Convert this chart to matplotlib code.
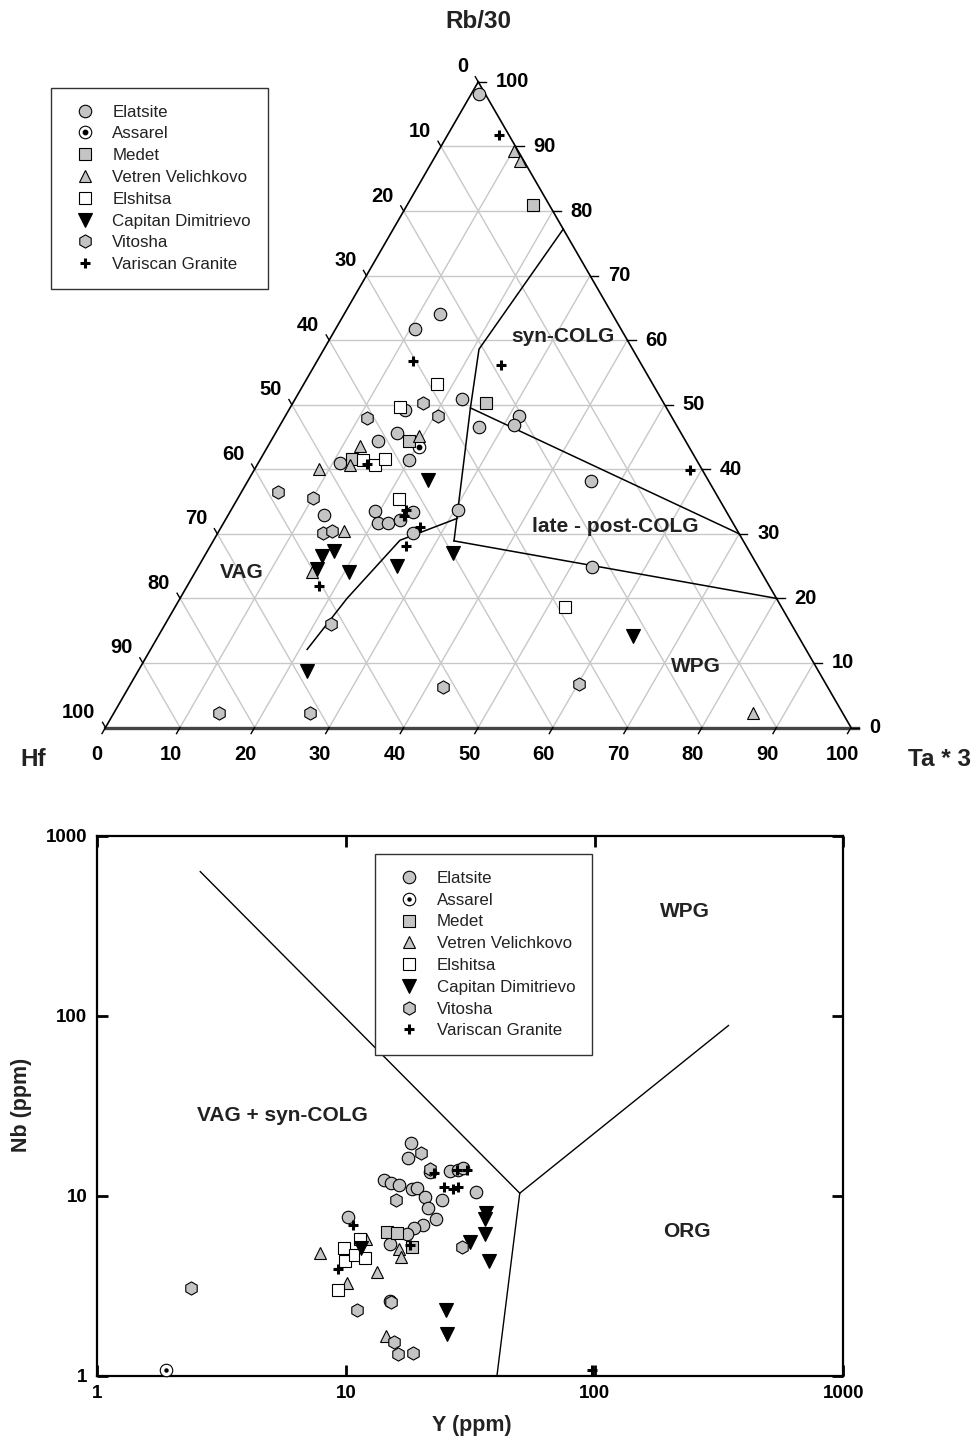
# coding=utf-8
"""
Desc: Hf - Rb/30 - Ta*3 ternary diagram and Nb - Y diagram for granitoids
"""
import numpy as np
import matplotlib
from matplotlib import pyplot as plt

matplotlib.use('Agg')
plt.rcParams['font.family'] = ['Liberation Sans', 'DejaVu Sans']

group_names = ['Elatsite', 'Assarel', 'Medet', 'Vetren Velichkovo', 'Elshitsa',
               'Capitan Dimitrievo', 'Vitosha', 'Variscan Granite']

# =============================================================================
# ternary data : Ta*3 (%) and Rb/30 (%), Hf = 100 - Ta - Rb
# =============================================================================
elatsite_ta = [1.0, 12.8, 10.6, 22.4, 15.6, 26.8, 31.3, 31.4, 14.4, 16.3, 20.0, 46.0,
               11.0, 12.8, 19.4, 20.8, 22.0, 23.4, 24.6, 26.2, 30.4, 52.8]
elatsite_rb = [98.1, 64.1, 61.7, 50.9, 49.2, 46.6, 48.3, 46.9, 44.4, 45.6, 41.4, 38.2,
               41.0, 32.9, 33.5, 31.6, 31.7, 32.1, 33.4, 30.1, 33.7, 24.8]
assarel_ta = [20.3]
assarel_rb = [43.5]
medet_ta = [16.9, 26.0, 18.5, 12.2]
medet_rb = [80.9, 50.2, 44.4, 41.6]
vetren_ta = [10.2, 11.7, 19.4, 12.4, 12.5, 8.6, 16.7, 15.6, 85.8]
vetren_rb = [89.3, 87.7, 45.2, 43.6, 40.7, 40.0, 30.5, 24.1, 2.2]
elshitsa_ta = [17.9, 14.7, 13.9, 15.8, 16.7, 21.7, 52.4]
elshitsa_rb = [53.2, 49.6, 41.4, 40.6, 41.6, 35.4, 18.6]
capitan_ta = [24.1, 15.8, 16.9, 16.1, 20.6, 26.6, 33.1, 22.6, 63.7]
capitan_rb = [38.3, 26.6, 27.4, 24.5, 24.1, 25.0, 27.0, 8.8, 14.2]
vitosha_ta = [11.1, 17.4, 20.5, 4.9, 10.1, 14.1, 15.2, 22.3, 14.1, 26.3, 42.1, 60.2]
vitosha_rb = [47.9, 50.3, 48.2, 36.4, 35.5, 30.1, 30.4, 16.0, 2.3, 2.2, 6.3, 6.7]
variscan_ta = [7.0, 12.9, 24.9, 14.7, 23.4, 23.7, 26.6, 26.2, 17.7, 58.4]
variscan_rb = [91.7, 56.7, 56.2, 40.8, 33.7, 32.7, 31.1, 28.1, 21.9, 39.9]

# field boundaries (Ta*3, Rb/30)
syn_colg_ta = [22.8, 20.8, 24.2, 32.3]
syn_colg_rb = [77.2, 58.6, 49.5, 28.9]
post_upper_ta = [24.2, 70.0]
post_upper_rb = [49.5, 30.0]
post_lower_ta = [32.3, 80.0]
post_lower_rb = [28.9, 20.0]
vag_ta = [31.0, 25.0, 22.4, 21.0]
vag_rb = [32.4, 29.0, 20.0, 12.1]

# =============================================================================
# Nb - Y data (ppm)
# =============================================================================
elatsite_y = [18.3, 17.7, 14.2, 15.2, 16.4, 18.5, 19.3, 20.8, 21.4, 24.3, 21.7, 26.1,
              28.3, 29.6, 33.2, 10.2, 23.1, 20.5, 18.8, 17.6, 15.1, 15.1]
elatsite_nb = [19.5, 16.2, 12.2, 11.7, 11.5, 10.8, 11.0, 9.8, 8.5, 9.5, 13.5, 13.6,
               13.8, 14.2, 10.4, 7.6, 7.4, 6.9, 6.6, 6.1, 5.4, 2.6]
assarel_y = [1.9]
assarel_nb = [1.07]
medet_y = [14.7, 16.0, 18.4]
medet_nb = [6.25, 6.2, 5.2]
vetren_y = [7.9, 12.0, 10.1, 13.3, 16.4, 16.7, 14.5]
vetren_nb = [4.8, 5.7, 3.26, 3.75, 5.06, 4.54, 1.65]
elshitsa_y = [9.8, 11.4, 9.9, 10.9, 11.9, 9.3]
elshitsa_nb = [5.1, 5.7, 4.3, 4.7, 4.5, 3.0]
capitan_y = [11.5, 36.7, 36.4, 36.2, 31.5, 37.7, 25.3, 25.6]
capitan_nb = [5.1, 8.0, 7.4, 6.1, 5.5, 4.3, 2.3, 1.7]
vitosha_y = [20.1, 21.8, 15.9, 29.2, 11.1, 15.2, 15.6, 16.2, 18.6, 2.38]
vitosha_nb = [17.3, 14.1, 9.5, 5.2, 2.3, 2.55, 1.53, 1.32, 1.34, 3.07]
variscan_y = [22.6, 27.9, 30.6, 24.7, 27.0, 28.3, 10.7, 9.3, 18.1, 98.0]
variscan_nb = [13.3, 13.8, 13.8, 11.2, 10.9, 11.1, 6.9, 3.9, 5.3, 1.07]

# field boundaries (Y, Nb)
wpg_bound_y = [2.6, 50.0]
wpg_bound_nb = [630.0, 10.3]
org_bound_y = [40.5, 50.0, 345.0]
org_bound_nb = [1.0, 10.3, 88.0]

tick_values = [1, 10, 100, 1000]

tern_data = {
    'Elatsite': (elatsite_ta, elatsite_rb), 'Assarel': (assarel_ta, assarel_rb),
    'Medet': (medet_ta, medet_rb), 'Vetren Velichkovo': (vetren_ta, vetren_rb),
    'Elshitsa': (elshitsa_ta, elshitsa_rb), 'Capitan Dimitrievo': (capitan_ta, capitan_rb),
    'Vitosha': (vitosha_ta, vitosha_rb), 'Variscan Granite': (variscan_ta, variscan_rb),
}
nby_data = {
    'Elatsite': (elatsite_y, elatsite_nb), 'Assarel': (assarel_y, assarel_nb),
    'Medet': (medet_y, medet_nb), 'Vetren Velichkovo': (vetren_y, vetren_nb),
    'Elshitsa': (elshitsa_y, elshitsa_nb), 'Capitan Dimitrievo': (capitan_y, capitan_nb),
    'Vitosha': (vitosha_y, vitosha_nb), 'Variscan Granite': (variscan_y, variscan_nb),
}

GRAY = '#c4c4c4'
marker_styles = {
    'Elatsite': dict(marker='o', ms=9, mfc=GRAY, mec='k'),
    'Assarel': dict(marker='o', ms=9, mfc='white', mec='k'),
    'Medet': dict(marker='s', ms=8.5, mfc=GRAY, mec='k'),
    'Vetren Velichkovo': dict(marker='^', ms=9, mfc=GRAY, mec='k'),
    'Elshitsa': dict(marker='s', ms=8.5, mfc='white', mec='k'),
    'Capitan Dimitrievo': dict(marker='v', ms=9.5, mfc='k', mec='k'),
    'Vitosha': dict(marker='h', ms=9.5, mfc=GRAY, mec='k'),
    'Variscan Granite': dict(marker='+', ms=7.5, mec='k', mew=2.2),
}

W, H = 979, 1441
fig = plt.figure(figsize=(W / 100, H / 100), dpi=100)


def tern_xy(ta, rb):
    """ ternary (Ta, Rb) -> cartesian, side = 100 """
    ta = np.asarray(ta, dtype=float)
    rb = np.asarray(rb, dtype=float)
    return ta + rb / 2, rb * np.sqrt(3) / 2


def plot_groups(ax, data, to_xy, dot_ms):
    handles = []
    for name in group_names:
        a, b = data[name]
        x, y = to_xy(a, b)
        st = dict(mew=0.8)
        st.update(marker_styles[name])
        h, = ax.plot(x, y, ls='none', zorder=4, clip_on=False, **st)
        if name == 'Assarel':
            d, = ax.plot(x, y, ls='none', marker='o', ms=dot_ms, mfc='k', mec='k',
                         zorder=5, clip_on=False)
            h = (h, d)
        handles.append(h)
    return handles


def add_legend(handles, x_px, y_px):
    leg = fig.legend(handles, group_names, loc='upper left',
                     bbox_to_anchor=(x_px / W, 1 - y_px / H), bbox_transform=fig.transFigure,
                     fontsize=12.2, frameon=True, fancybox=False, framealpha=1,
                     borderpad=1.0, handlelength=2.0, handletextpad=0.64,
                     labelspacing=0.40, borderaxespad=0, edgecolor='#333333')
    leg.get_frame().set_linewidth(1.0)
    for t in leg.get_texts():
        t.set_color('#222222')
    return leg


# =============================================================================
# ternary
# =============================================================================
X0, Y0, SCALE = 105.5, 727.5, 7.455   # left vertex (px), base line (px), px per unit
TOP_H = 790
ax = fig.add_axes([0, 1 - TOP_H / H, 1, TOP_H / H])
ax.set_xlim(-X0 / SCALE, (W - X0) / SCALE)
ax.set_ylim((Y0 - TOP_H) / SCALE, Y0 / SCALE)
ax.axis('off')


def px(xp, yp):
    return (xp - X0) / SCALE, (Y0 - yp) / SCALE


grid_kw = dict(color='#c8c8c8', lw=1.0, zorder=1)
for v in range(10, 100, 10):
    ax.plot(*tern_xy([0, 100 - v], [v, v]), **grid_kw)           # Rb const
    ax.plot(*tern_xy([v, v], [0, 100 - v]), **grid_kw)           # Ta const
    ax.plot(*tern_xy([100 - v, 0], [0, 100 - v]), **grid_kw)     # Hf const

ax.plot(*tern_xy([0, 0], [0, 100]), color='k', lw=1.2, zorder=2)
ax.plot(*tern_xy([100, 0], [0, 100]), color='k', lw=1.2, zorder=2)
ax.plot(*tern_xy([0, 101], [0, 0]), color='#444444', lw=2.4, zorder=2)

s3 = np.sqrt(3) / 2
for v in range(0, 101, 10):
    # bottom : Ta*3
    bx, by = tern_xy(v, 0)
    ax.plot([bx, bx - 0.47], [by, by - 0.47 / 0.5 * s3], color='k', lw=1.0, zorder=2)
    ax.annotate(str(v), (bx, by), xytext=(-9, -27.5), textcoords='offset pixels',
                ha='center', va='center', fontsize=14.5, fontweight='bold')
    # left : Hf
    lx, ly = tern_xy(0, 100 - v)
    ax.plot([lx, lx - 0.4], [ly, ly + 0.4 / 0.5 * s3], color='k', lw=1.0, zorder=2)
    ax.annotate(str(v), (lx, ly), xytext=(-10, 15), textcoords='offset pixels',
                ha='right', va='center', fontsize=14.5, fontweight='bold')
    # right : Rb/30
    rx, ry = tern_xy(100 - v, v)
    ax.plot([rx, rx + 1.1], [ry, ry], color='k', lw=1.0, zorder=2)
    ax.annotate(str(v), (rx, ry), xytext=(18, 0), textcoords='offset pixels',
                ha='left', va='center', fontsize=14.5, fontweight='bold')

line_kw = dict(color='k', lw=1.1, zorder=3)
ax.plot(*tern_xy(syn_colg_ta, syn_colg_rb), **line_kw)
ax.plot(*tern_xy(post_upper_ta, post_upper_rb), **line_kw)
ax.plot(*tern_xy(post_lower_ta, post_lower_rb), **line_kw)
ax.plot(*tern_xy(vag_ta, vag_rb), **line_kw)

field_kw = dict(ha='center', va='center', fontsize=15, fontweight='bold', color='#222222')
ax.text(*px(563, 337), 'syn-COLG', **field_kw)
ax.text(*px(615, 526), 'late - post-COLG', **field_kw)
ax.text(*px(242, 573), 'VAG', **field_kw)
ax.text(*px(696, 667), 'WPG', **field_kw)

title_kw = dict(ha='center', va='center', fontsize=17.5, fontweight='bold', color='#222222')
ax.text(*px(478, 22), 'Rb/30', **title_kw)
ax.text(*px(33, 760), 'Hf', **title_kw)
ax.text(*px(940, 760), 'Ta * 3', **title_kw)

h_top = plot_groups(ax, tern_data, tern_xy, 3.2)
add_legend(h_top, 50.7, 87.7)

# =============================================================================
# Nb - Y
# =============================================================================
L, R, T, B = 97, 843.5, 835.5, 1375.5
ax2 = fig.add_axes([L / W, 1 - B / H, (R - L) / W, (B - T) / H])
ax2.set_xscale('log')
ax2.set_yscale('log')
ax2.set_xlim(1, 1000)
ax2.set_ylim(1, 1000)
ax2.set_xticks(tick_values, labels=[str(v) for v in tick_values])
ax2.set_yticks(tick_values, labels=[str(v) for v in tick_values])
ax2.minorticks_off()
ax2.tick_params(direction='in', length=8, width=2, top=True, right=True,
                labelsize=13.5, pad=7)
for lab in ax2.get_xticklabels() + ax2.get_yticklabels():
    lab.set_fontweight('bold')
for sp in ax2.spines.values():
    sp.set_linewidth(1.6)

ax2.plot(wpg_bound_y, wpg_bound_nb, color='k', lw=1.0, zorder=2)
ax2.plot(org_bound_y, org_bound_nb, color='k', lw=1.0, zorder=2)

ax2.text(5.54, 28, 'VAG + syn-COLG', **field_kw)
ax2.text(231, 376, 'WPG', **field_kw)
ax2.text(235, 6.27, 'ORG', **field_kw)

fig.text(472 / W, 1 - 1425 / H, 'Y (ppm)', ha='center', va='center',
         fontsize=15.5, fontweight='bold', color='#222222')
fig.text(22 / W, 1 - 1105 / H, 'Nb (ppm)', ha='center', va='center', rotation=90,
         fontsize=15.5, fontweight='bold', color='#222222')

h_bot = plot_groups(ax2, nby_data, lambda a, b: (np.asarray(a), np.asarray(b)), 2.2)
add_legend(h_bot, 375, 854)

fig.savefig('out.png', dpi=100)
